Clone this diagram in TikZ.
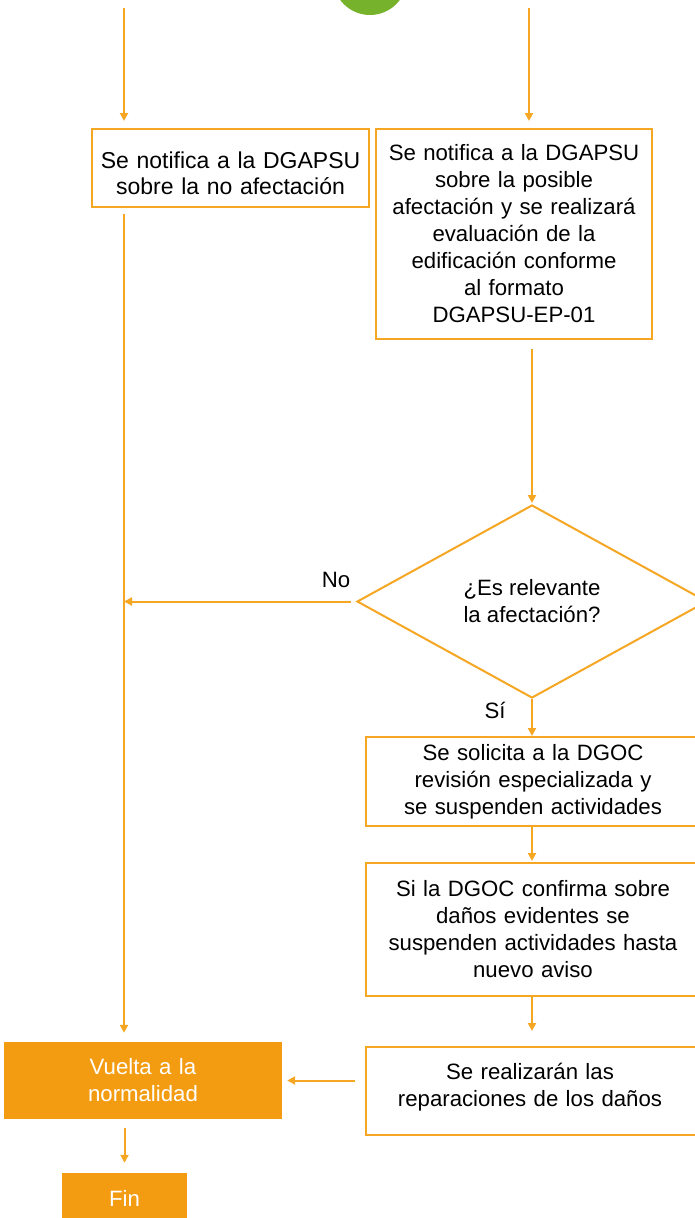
\documentclass[tikz,border=0pt]{standalone}
\usepackage{fontspec}
\setmainfont{Liberation Sans}
\usetikzlibrary{shapes.geometric,arrows.meta}
\definecolor{org}{HTML}{F5A623}
\definecolor{orgfill}{HTML}{F39C12}
\definecolor{grn}{HTML}{76B22C}
\begin{document}
\begin{tikzpicture}[x=1pt,y=-1pt,
  txt/.style={font=\fontsize{22.2}{27}\selectfont, align=center},
  box/.style={draw=org, line width=2pt, fill=white, txt, inner sep=0pt, text width=#1},
  box/.default=260pt,
  fbox/.style={fill=orgfill, draw=none, txt, text=white, inner sep=0pt},
  arr/.style={draw=org, line width=2pt, -{Triangle[length=8pt,width=8pt]}},
  dec/.style={diamond, draw=org, line width=2pt, txt, inner sep=0pt, minimum width=350pt, minimum height=193pt, aspect=1.81}
]
\useasboundingbox (0,0) rectangle (695,1218);
\clip (0,0) rectangle (695,1218);

\node[circle, fill=grn, minimum size=74pt, inner sep=0pt] (start) at (370,-22) {};
\coordinate (c1) at (124,8);
\coordinate (c2) at (529,8);

\node[box=270pt, minimum width=277pt, minimum height=78pt,
  label={[txt, font=\fontsize{23}{26}\selectfont, text width=270pt, yshift=-5pt]center:Se notifica a la DGAPSU\\ sobre la no afectación}] (b1) at (230.5,168) {};
\node[box=270pt, minimum width=276pt, minimum height=210pt] (b2) at (514,234) {Se notifica a la DGAPSU\\ sobre la posible\\ afectación y se realizará\\ evaluación de la\\ edificación conforme\\ al formato\\ DGAPSU-EP-01};
\node[dec] (d) at (532,601.5) {¿Es relevante\\ la afectación?};
\node[box=320pt, minimum width=334pt, minimum height=89pt] (b3) at (533,781.5) {Se solicita a la DGOC\\ revisión especializada y\\ se suspenden actividades};
\node[box=320pt, minimum width=334pt, minimum height=133pt] (b4) at (533,929.5) {Si la DGOC confirma sobre\\ daños evidentes se\\ suspenden actividades hasta\\ nuevo aviso};
\node[box=320pt, minimum width=334pt, minimum height=88pt,
  label={[txt, text width=320pt, yshift=4pt, xshift=-3pt]center:Se realizarán las\\ reparaciones de los daños}] (b5) at (533,1091) {};
\node[fbox, minimum width=278pt, minimum height=77pt, text width=270pt] (v) at (143,1080.5) {Vuelta a la\\ normalidad};
\node[fbox, minimum width=125pt, minimum height=50pt] (fin) at (124.5,1198) {Fin};

\node[txt] (no) at (336,580) {No};
\node[txt] (si) at (495,710) {Sí};

\draw[arr, shorten >=7pt] (c1) -- (c1 |- b1.north);
\draw[arr, shorten >=7pt] (c2) -- (c2 |- b2.north);
\draw[arr, shorten <=6pt, shorten >=9pt] (c1 |- b1.south) -- (c1 |- v.north);
\draw[arr, shorten <=9pt, shorten >=1pt] (d.north |- b2.south) -- (d.north);
\draw[arr, shorten <=5pt, shorten >=0pt] (d.west) -- (c1 |- d.west);
\draw[arr] (d.south) -- (d.south |- b3.north);
\draw[arr, shorten >=1pt] (d.south |- b3.south) -- (d.south |- b4.north);
\draw[arr, shorten >=15pt] (d.south |- b4.south) -- (d.south |- b5.north);
\draw[arr, shorten <=10pt, shorten >=5pt] (b5.west |- v.east) -- (v.east);
\draw[arr, shorten <=9pt, shorten >=10pt] (fin.north |- v.south) -- (fin.north);
\end{tikzpicture}
\end{document}
